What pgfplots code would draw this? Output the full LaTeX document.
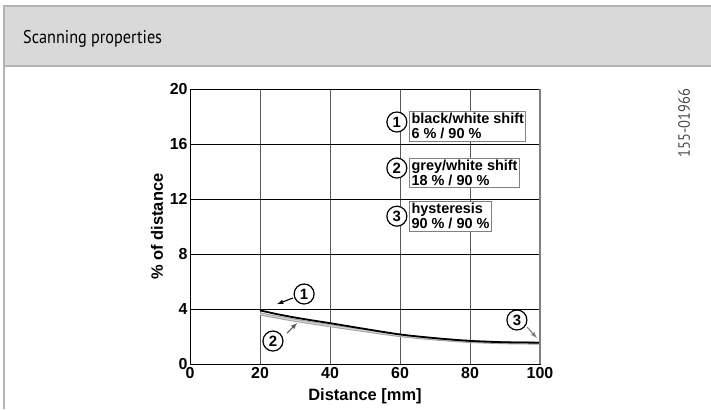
\documentclass[border=0pt]{standalone}
\usepackage{pgfplots}
\pgfplotsset{compat=1.18}
\usepackage{fontspec}
\setmainfont{Liberation Sans}
\newfontfamily\headfont[FakeStretch=0.88]{PT Sans}

\definecolor{headgrey}{HTML}{D9D9D9}
\definecolor{rulegrey}{HTML}{B4B4B4}
\definecolor{gridgrey}{HTML}{5A5A5A}

\pgfplotstableread{
x    y
20   3.90
25   3.62
30   3.38
35   3.17
40   2.97
50   2.55
60   2.15
70   1.88
80   1.68
90   1.58
100  1.55
}\bwshift

\pgfplotstableread{
x    y
20   3.64
25   3.40
30   3.18
35   2.98
40   2.79
50   2.42
60   2.07
70   1.82
80   1.64
90   1.55
100  1.52
}\greyshift

\tikzset{
  num/.style={circle, draw, line width=1.2bp, fill=white, inner sep=0pt,
    minimum size=20bp, font=\bfseries\fontsize{15}{15}\selectfont},
  keybox/.style={anchor=north west, draw=gray, line width=0.9bp, fill=white,
    inner sep=2bp, align=left, font=\bfseries\fontsize{14.5}{15}\selectfont},
}

\begin{document}
\begin{tikzpicture}[x=1bp,y=1bp]
\useasboundingbox (0,0) rectangle (711,409);
\fill[white] (0,0) rectangle (711,409);
% header band
\fill[headgrey] (4,343) rectangle (711,403);
\draw[rulegrey, line width=2bp] (4,403) -- (711,403);
\draw[rulegrey, line width=2bp] (4,343) -- (711,343);
\draw[rulegrey, line width=2bp] (4,0) -- (4,404);
\node[anchor=base west, inner sep=0pt, font=\headfont\fontsize{18.5}{20}\selectfont]
  at (23,366) {Scanning properties};
\node[rotate=90, inner sep=0pt, text=black!70, font=\headfont\fontsize{16.5}{18}\selectfont]
  at (684,286) {155-01966};

\begin{axis}[
    at={(190bp,45bp)}, anchor=south west,
    width=350bp, height=275bp, scale only axis,
    xmin=0, xmax=100, ymin=0, ymax=20,
    xtick={0,20,40,60,80,100},
    ytick={0,4,8,12,16,20},
    major tick length=0pt,
    xmajorgrids=true, ymajorgrids=true,
    x grid style={gridgrey, line width=0.9bp},
    y grid style={black, line width=0.9bp},
    axis line style={black, line width=0.9bp},
    /pgf/number format/assume math mode=true,
    ticklabel style={font=\bfseries\fontsize{16}{18}\selectfont},
    yticklabel style={xshift=1bp},
    xlabel={Distance [mm]},
    ylabel={\% of distance},
    label style={font=\bfseries\fontsize{16.5}{19}\selectfont},
    xlabel style={yshift=-3bp},
    ylabel style={yshift=0bp},
    clip=false,
]

\addplot[color=gray!75, line width=3bp, smooth] table[x=x, y=y] {\greyshift};
\addplot[color=gray!35, line width=1.2bp, smooth] table[x=x, y=y] {\greyshift};
\addplot[color=black, line width=1.8bp, smooth] table[x=x, y=y] {\bwshift};

\draw[gray, line width=1.6bp] (axis cs:100,0) -- (axis cs:100,20);

% callouts on the curves
\draw[-latex, line width=1.1bp] (axis cs:29.4,4.8) -- (axis cs:24.9,4.36);
\node[num] at (axis cs:32.6,5.09) {1};
\draw[-latex, gray!70!black, line width=1.1bp] (axis cs:27.7,2.25) -- (axis cs:30.6,2.98);
\node[num] at (axis cs:23.7,1.67) {2};
\draw[-latex, gray, line width=1.1bp] (axis cs:96.3,2.69) -- (axis cs:99.1,1.89);
\node[num] at (axis cs:93.4,3.2) {3};

% key
\node[keybox] at (axis cs:62.6,18.4) {black/white shift\\6 \% / 90 \%};
\node[num] at (axis cs:59.1,17.6) {1};
\node[keybox] at (axis cs:62.6,15.0) {grey/white shift\\18 \% / 90 \%};
\node[num] at (axis cs:59.1,14.25) {2};
\node[keybox] at (axis cs:62.6,11.85) {hysteresis\\90 \% / 90 \%};
\node[num] at (axis cs:59.1,10.75) {3};
\end{axis}
\end{tikzpicture}
\end{document}
